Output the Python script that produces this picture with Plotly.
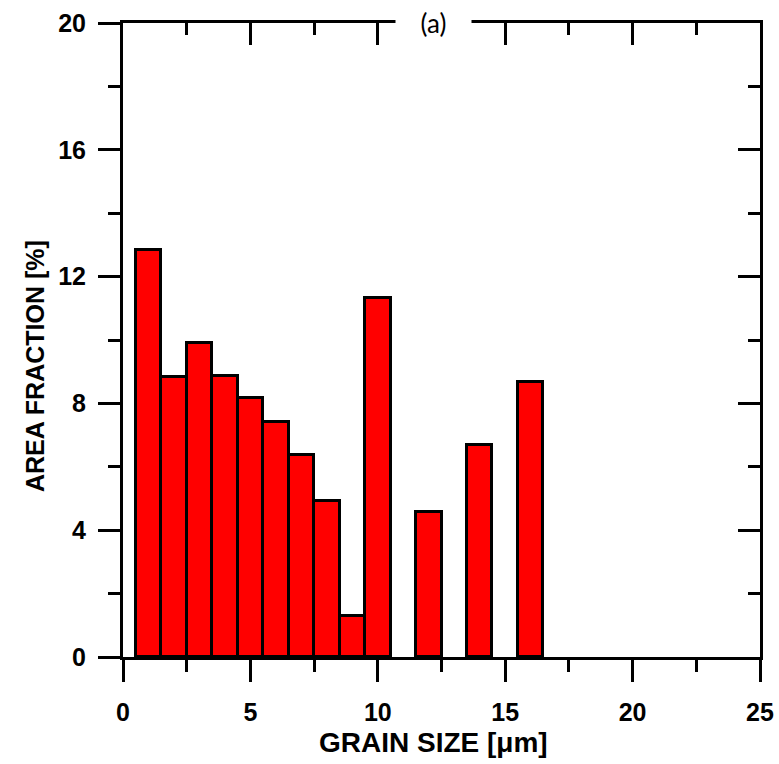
import plotly.graph_objects as go

grain_size = [1, 2, 3, 4, 5, 6, 7, 8, 9, 10, 12, 14, 16]
area_fraction = [12.85, 8.84, 9.90, 8.87, 8.16, 7.40, 6.37, 4.91, 1.28, 11.32, 4.56, 6.70, 8.67]
x_ticks = [0, 5, 10, 15, 20, 25]
y_ticks = [0, 4, 8, 12, 16, 20]

FONT = "Liberation Sans, Arial, sans-serif"

fig = go.Figure()
fig.add_trace(go.Bar(
    x=grain_size, y=area_fraction, width=1,
    marker=dict(color="#FF0000", line=dict(color="black", width=3)),
    showlegend=False, hoverinfo="x+y",
))
# invisible trace on the mirrored axes
fig.add_trace(go.Scatter(x=[0], y=[0], xaxis="x2", yaxis="y2", mode="markers",
                         marker=dict(opacity=0), showlegend=False, hoverinfo="skip"))

axis_common = dict(showline=True, linecolor="black", linewidth=3, showgrid=False,
                   zeroline=False, tickcolor="black", tickwidth=3, automargin=False)

fig.update_layout(
    width=779, height=764,
    margin=dict(l=123, r=19, t=23, b=107),
    paper_bgcolor="white", plot_bgcolor="white",
    bargap=0,
    xaxis=dict(range=[0, 25], tickvals=x_ticks, ticks="outside", ticklen=22, ticklabelstandoff=9,
               minor=dict(dtick=2.5, tick0=0, ticks="outside", ticklen=12, tickwidth=3, tickcolor="black"),
               tickfont=dict(family=FONT, size=25, color="black", weight="bold"),
               **axis_common),
    yaxis=dict(range=[0, 20], tickvals=y_ticks, ticks="outside", ticklen=22, ticklabelstandoff=7,
               minor=dict(dtick=2, tick0=0, ticks="outside", ticklen=12, tickwidth=3, tickcolor="black"),
               tickfont=dict(family=FONT, size=25, color="black", weight="bold"),
               **axis_common),
    xaxis2=dict(range=[0, 25], overlaying="x", side="top", tickvals=x_ticks, ticks="inside", ticklen=22,
                minor=dict(dtick=2.5, tick0=0, ticks="inside", ticklen=12, tickwidth=3, tickcolor="black"),
                showticklabels=False, **axis_common),
    yaxis2=dict(range=[0, 20], overlaying="y", side="right", tickvals=y_ticks, ticks="inside", ticklen=22,
                minor=dict(dtick=2, tick0=0, ticks="inside", ticklen=12, tickwidth=3, tickcolor="black"),
                showticklabels=False, **axis_common),
    annotations=[
        dict(text="(a)", x=0.487, y=1, xref="paper", yref="paper",
             xanchor="center", yanchor="middle", showarrow=False,
             bgcolor="white", width=73, height=32,
             font=dict(family="Lato, Open Sans, sans-serif", size=26, color="black")),
        dict(text="GRAIN SIZE [μm]", x=0.488, y=-0.1356, xref="paper", yref="paper",
             xanchor="center", yanchor="middle", showarrow=False,
             font=dict(family=FONT, size=28, color="black", weight="bold")),
        dict(text="AREA FRACTION [%]", x=-0.1381, y=0.459, xref="paper", yref="paper",
             xanchor="center", yanchor="middle", showarrow=False, textangle=-90,
             font=dict(family=FONT, size=25, color="black", weight="bold")),
    ],
)

fig.write_html("out.html", config={"displayModeBar": False},
               post_script="document.body.style.margin='0';")
